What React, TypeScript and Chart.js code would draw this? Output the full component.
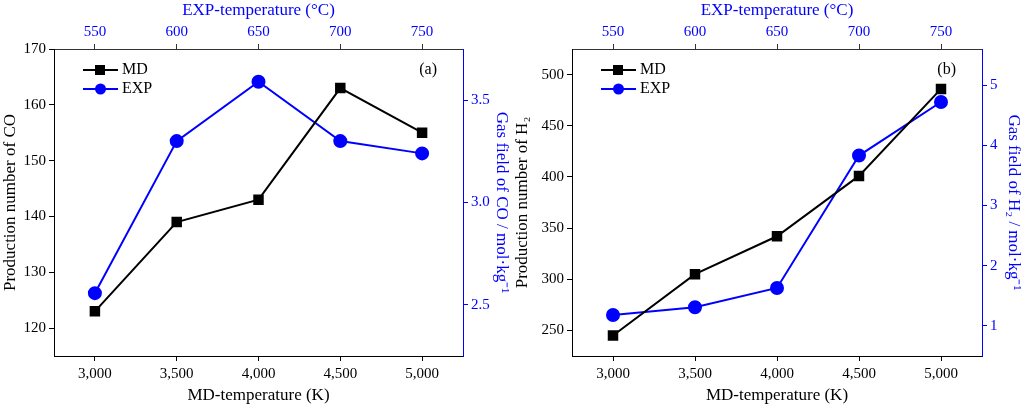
import React, { useEffect, useRef } from "react";
import { Chart, registerables } from "chart.js";
Chart.register(...registerables);

const mdTemps = [3000, 3500, 4000, 4500, 5000];
const mdCO = [123, 139, 143, 163, 155];
const expCO = [2.557, 3.3, 3.59, 3.3, 3.24];
const mdH2 = [245, 305, 342, 401, 486];
const expH2 = [1.18, 1.31, 1.63, 3.83, 4.72];
const bottomTicks = [3000, 3500, 4000, 4500, 5000];
const topTicks = [550, 600, 650, 700, 750];

const FONT = "'Liberation Serif', 'Times New Roman', serif";
const BLUE = "#0000ff";

type Cfg = {
  md: number[]; exp: number[]; yMin: number; yMax: number; yStep: number;
  y2Min: number; y2Max: number; y2Ticks: number[]; y2Dec: number;
  yTitle: string; y2Title: string; tag: string; leftW: number; rightW: number;
};

function Panel({ cfg, left }: { cfg: Cfg; left: number }) {
  const ref = useRef<HTMLCanvasElement>(null);
  useEffect(() => {
    const fit = (w: number, h?: boolean) => (s: any) => { if (h) s.height = w; else s.width = w; };
    const legendPlugin = {
      id: "lg",
      afterDraw(chart: any) {
        const { ctx, chartArea } = chart;
        ctx.save();
        const items = [
          { label: "MD", color: "#000", shape: "rect" },
          { label: "EXP", color: BLUE, shape: "circle" },
        ];
        items.forEach((it, i) => {
          const y = chartArea.top + 21 + i * 19;
          const x = chartArea.left + 29;
          ctx.strokeStyle = it.color; ctx.lineWidth = 2;
          ctx.beginPath(); ctx.moveTo(x, y); ctx.lineTo(x + 35, y); ctx.stroke();
          ctx.fillStyle = it.color;
          if (it.shape === "rect") ctx.fillRect(x + 12, y - 5, 10, 10);
          else { ctx.beginPath(); ctx.arc(x + 17.5, y, 5.5, 0, Math.PI * 2); ctx.fill(); }
          ctx.fillStyle = "#000"; ctx.font = `16px ${FONT}`; ctx.textBaseline = "middle";
          ctx.fillText(it.label, x + 39, y);
        });
        ctx.font = `16px ${FONT}`; ctx.textAlign = "right";
        ctx.fillText(cfg.tag, chartArea.right - 26, chartArea.top + 21);
        ctx.restore();
      },
    };
    const tickFont = { family: FONT, size: 15 };
    const titleFont = { family: FONT, size: 17 };
    const chart = new Chart(ref.current!, {
      type: "line",
      data: {
        datasets: [
          { label: "MD", data: mdTemps.map((x, i) => ({ x, y: cfg.md[i] })), borderColor: "#000", backgroundColor: "#000",
            pointStyle: "rect", pointRadius: 6, borderWidth: 2, yAxisID: "y", xAxisID: "x" },
          { label: "EXP", data: mdTemps.map((x, i) => ({ x, y: cfg.exp[i] })), borderColor: BLUE, backgroundColor: BLUE,
            pointStyle: "circle", pointRadius: 6, borderWidth: 2, yAxisID: "y2", xAxisID: "x" },
        ],
      },
      options: {
        responsive: false, animation: false, maintainAspectRatio: false,
        layout: { padding: 0 },
        plugins: { legend: { display: false }, tooltip: { enabled: false } },
        scales: {
          x: {
            type: "linear", position: "bottom", min: 2750, max: 5250,
            afterBuildTicks: (s: any) => { s.ticks = bottomTicks.map((v) => ({ value: v })); },
            afterFit: fit(52, true),
            ticks: { color: "#000", font: tickFont, padding: 4 },
            grid: { drawOnChartArea: false, tickLength: 5, color: "#000" },
            border: { color: "#000", width: 1 },
            title: { display: true, text: "MD-temperature (K)", color: "#000", font: titleFont, padding: 2 },
          },
          x2: {
            type: "linear", position: "top", min: 525, max: 775,
            afterBuildTicks: (s: any) => { s.ticks = topTicks.map((v) => ({ value: v })); },
            afterFit: fit(49, true),
            ticks: { color: BLUE, font: tickFont, padding: 3 },
            grid: { drawOnChartArea: false, tickLength: 5, color: "#333" },
            border: { color: "#333", width: 1 },
            title: { display: true, text: "EXP-temperature (°C)", color: BLUE, font: titleFont, padding: 0 },
          },
          y: {
            type: "linear", position: "left", min: cfg.yMin, max: cfg.yMax,
            afterBuildTicks: (s: any) => {
              const t = []; for (let v = Math.ceil(cfg.yMin / cfg.yStep) * cfg.yStep; v <= cfg.yMax; v += cfg.yStep) t.push({ value: v });
              s.ticks = t;
            },
            afterFit: fit(cfg.leftW),
            ticks: { color: "#000", font: tickFont, padding: 3 },
            grid: { drawOnChartArea: false, tickLength: 5, color: "#000" },
            border: { color: "#000", width: 1 },
            title: { display: true, text: cfg.yTitle, color: "#000", font: titleFont, padding: 0 },
          },
          y2: {
            type: "linear", position: "right", min: cfg.y2Min, max: cfg.y2Max,
            afterBuildTicks: (s: any) => { s.ticks = cfg.y2Ticks.map((v) => ({ value: v })); },
            afterFit: fit(cfg.rightW),
            ticks: { color: BLUE, font: tickFont, padding: 3, callback: (v: any) => Number(v).toFixed(cfg.y2Dec) },
            grid: { drawOnChartArea: false, tickLength: 5, color: BLUE },
            border: { color: BLUE, width: 1 },
            title: { display: true, text: cfg.y2Title, color: BLUE, font: titleFont, padding: 0 },
          },
        },
      },
      plugins: [legendPlugin],
    } as any);
    return () => chart.destroy();
  }, []);
  return (
    <canvas ref={ref} width={512} height={408}
      style={{ position: "absolute", left, top: 0, width: 512, height: 408 }} />
  );
}

const cfgA: Cfg = {
  md: mdCO, exp: expCO, yMin: 115, yMax: 170, yStep: 10, y2Min: 2.25, y2Max: 3.75,
  y2Ticks: [2.5, 3.0, 3.5], y2Dec: 1, yTitle: "Production number of CO",
  y2Title: "Gas field of CO / mol·kg⁻¹", tag: "(a)", leftW: 54, rightW: 49,
};
const cfgB: Cfg = {
  md: mdH2, exp: expH2, yMin: 225, yMax: 525, yStep: 50, y2Min: 0.5, y2Max: 5.6,
  y2Ticks: [1, 2, 3, 4, 5], y2Dec: 0, yTitle: "Production number of H₂",
  y2Title: "Gas field of H₂ / mol·kg⁻¹", tag: "(b)", leftW: 60, rightW: 42,
};

export default function App() {
  return (
    <div style={{ position: "absolute", left: 0, top: 0, width: 1024, height: 408, background: "#fff" }}>
      <Panel cfg={cfgA} left={0} />
      <Panel cfg={cfgB} left={512} />
    </div>
  );
}
